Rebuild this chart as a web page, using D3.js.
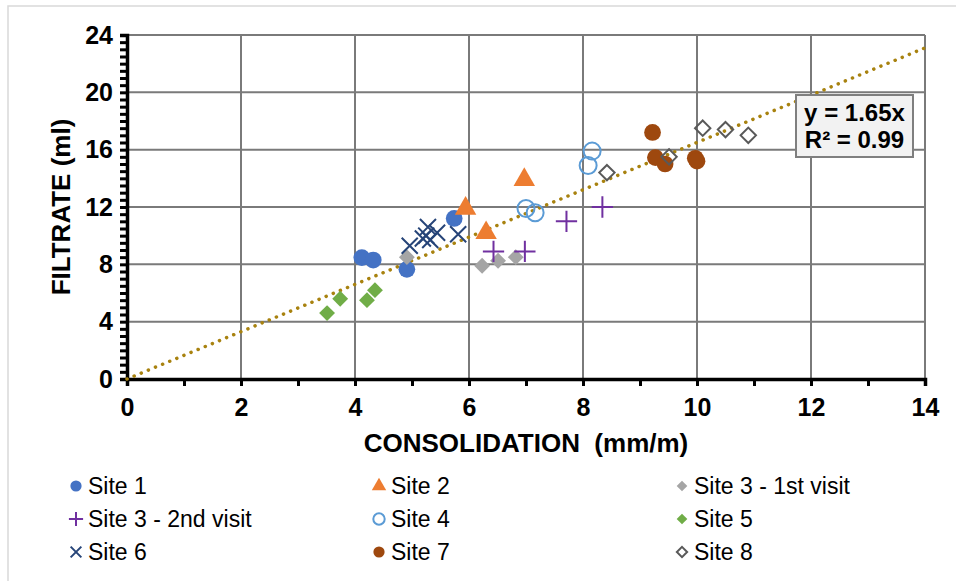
<!DOCTYPE html>
<html><head><meta charset="utf-8">
<script src="https://cdn.jsdelivr.net/npm/d3@7"></script>
<style>body{margin:0;background:#fff}svg{display:block;font-family:"Liberation Sans",Arial,sans-serif}</style>
</head><body><svg id="c" width="956" height="581"></svg>
<script>
const xTicks=[0,2,4,6,8,10,12,14];
const yTicks=[0,4,8,12,16,20,24];
const seriesNames=["Site 1","Site 2","Site 3 - 1st visit","Site 3 - 2nd visit","Site 4","Site 5","Site 6","Site 7","Site 8"];
const site1=[[4.12,8.47],[4.32,8.3],[4.91,7.65],[5.74,11.2]];
const site2=[[5.94,11.9],[6.3,10.2],[6.97,13.9]];
const site3a=[[4.91,8.5],[6.23,7.9],[6.51,8.25],[6.82,8.5]];
const site3b=[[6.43,8.9],[6.98,8.9],[7.71,11.0],[8.34,12.0]];
const site4=[[7.0,11.9],[7.16,11.6],[8.16,15.9],[8.09,14.9]];
const site5=[[3.51,4.6],[3.74,5.6],[4.21,5.5],[4.35,6.2]];
const site6=[[4.96,9.3],[5.19,9.8],[5.25,10.0],[5.28,10.6],[5.32,9.7],[5.44,10.2],[5.81,10.1]];
const site7=[[9.22,17.2],[9.27,15.45],[9.44,15.0],[9.97,15.4],[10.0,15.2]];
const site8=[[8.42,14.4],[9.51,15.5],[10.1,17.5],[10.5,17.4],[10.9,17.0]];
const slope=1.65;
const eqLines=["y = 1.65x","R² = 0.99"];

const svg=d3.select("#c");
const x=d3.scaleLinear().domain([0,14]).range([127,925]);
const y=d3.scaleLinear().domain([0,24]).range([379,35]);

// outer frame
svg.append("rect").attr("x",8).attr("y",6).attr("width",1000).attr("height",700).attr("fill","none").attr("stroke","#d9d9d9").attr("stroke-width",1.5);

// gridlines
const g=svg.append("g");
g.selectAll(".gx").data(xTicks.filter(d=>d>0)).join("line").attr("x1",d=>x(d)).attr("x2",d=>x(d)).attr("y1",y(0)).attr("y2",y(24)).attr("stroke","#7a7a7a").attr("stroke-width",2);
g.selectAll(".gy").data(yTicks.filter(d=>d>0)).join("line").attr("y1",d=>y(d)).attr("y2",d=>y(d)).attr("x1",x(0)).attr("x2",x(14)).attr("stroke","#7a7a7a").attr("stroke-width",2);

// axes
const xAxis=svg.append("g").attr("transform",`translate(0,${y(0)})`)
 .call(d3.axisBottom(x).tickValues(d3.range(0,14.01,1)).tickSize(7).tickFormat(d=>d%2===0?d:""));
const yAxis=svg.append("g").attr("transform",`translate(${x(0)},0)`)
 .call(d3.axisLeft(y).tickValues(d3.range(0,24.01,0.5)).tickSize(7).tickFormat(d=>d%4===0?d:""));
[xAxis,yAxis].forEach(a=>{
  a.select(".domain").attr("stroke","#000").attr("stroke-width",3.5);
  a.selectAll(".tick line").attr("stroke","#000").attr("stroke-width",3);
  a.selectAll(".tick text").attr("fill","#000").attr("font-size",25).attr("font-weight","bold").attr("font-family","Liberation Sans, Arial, sans-serif");
});
xAxis.selectAll(".tick text").attr("dy","0.95em").attr("y",13);
yAxis.selectAll(".tick text").attr("x",-14);

// axis titles
svg.append("text").attr("x",526).attr("y",452).attr("text-anchor","middle").attr("font-size",26).attr("font-weight","bold").attr("xml:space","preserve").text("CONSOLIDATION  (mm/m)");
svg.append("text").attr("transform","translate(70,207) rotate(-90)").attr("text-anchor","middle").attr("font-size",26).attr("font-weight","bold").text("FILTRATE (ml)");

// trendline
svg.append("line").attr("x1",x(0)).attr("y1",y(0)).attr("x2",x(14)).attr("y2",y(14*slope))
 .attr("stroke","#A8820F").attr("stroke-width",3.5).attr("stroke-linecap","round").attr("stroke-dasharray","0.1,7.6");

// markers
const sym=(type,size)=>d3.symbol().type(type).size(size)();
const styles=[
 {data:site1,draw:(s,sc)=>s.append("path").attr("d",sym(d3.symbolCircle,220*sc)).attr("fill","#4472C4")},
 {data:site2,draw:(s,sc)=>s.append("path").attr("d",sym(d3.symbolTriangle,200*sc)).attr("fill","#ED7D31")},
 {data:site3a,draw:(s,sc)=>s.append("path").attr("d",sym(d3.symbolDiamond2,160*sc)).attr("fill","#A5A5A5")},
 {data:site3b,draw:(s,sc)=>s.append("path").attr("d",sym(d3.symbolPlus,150*sc)).attr("fill","none").attr("stroke","#7030A0").attr("stroke-width",2)},
 {data:site4,draw:(s,sc)=>s.append("circle").attr("r",8.5*Math.sqrt(sc)).attr("fill","none").attr("stroke","#5B9BD5").attr("stroke-width",2)},
 {data:site5,draw:(s,sc)=>s.append("path").attr("d",sym(d3.symbolDiamond2,160*sc)).attr("fill","#70AD47")},
 {data:site6,draw:(s,sc)=>s.append("path").attr("d",sym(d3.symbolX,170*sc)).attr("fill","none").attr("stroke","#264478").attr("stroke-width",2)},
 {data:site7,draw:(s,sc)=>s.append("path").attr("d",sym(d3.symbolCircle,220*sc)).attr("fill","#9E480E")},
 {data:site8,draw:(s,sc)=>s.append("path").attr("d",sym(d3.symbolDiamond2,150*sc)).attr("fill","none").attr("stroke","#595959").attr("stroke-width",2)}
];
styles.forEach(st=>{
  st.data.forEach(p=>{
    const gg=svg.append("g").attr("transform",`translate(${x(p[0])},${y(p[1])})`);
    st.draw(gg,1);
  });
});

// equation box
const eb=svg.append("g");
eb.append("rect").attr("x",796).attr("y",95).attr("width",117).attr("height",62).attr("fill","#f2f2f2").attr("stroke","#7f7f7f").attr("stroke-width",2);
eqLines.forEach((t,i)=>eb.append("text").attr("x",854.5).attr("y",121+i*27).attr("text-anchor","middle").attr("font-size",24).attr("font-weight","bold").text(t));

// legend
const colX=[76,379,682], rowY=[486,519,552];
seriesNames.forEach((n,i)=>{
  const cx=colX[i%3], cy=rowY[Math.floor(i/3)];
  const lg=svg.append("g").attr("transform",`translate(${cx},${cy})`);
  styles[i].draw(lg,0.45);
  svg.append("text").attr("x",cx+12).attr("y",cy+8).attr("font-size",23).attr("fill","#000").text(n);
});
</script></body></html>
